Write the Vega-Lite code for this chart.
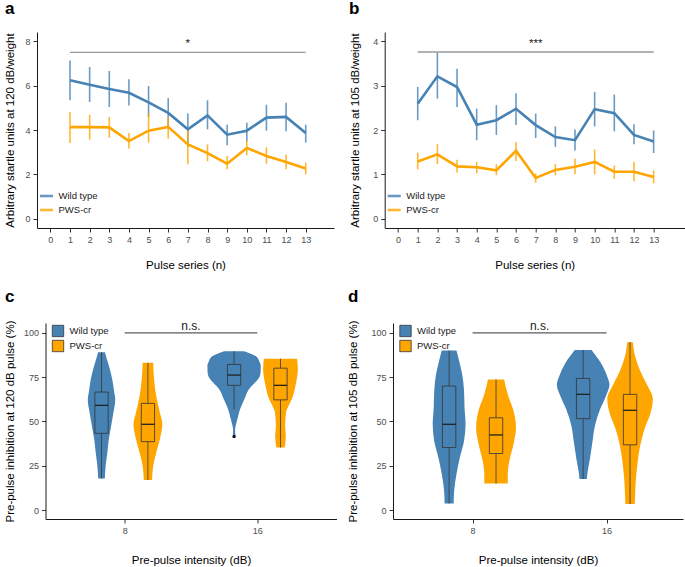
{
  "$schema": "https://vega.github.io/schema/vega-lite/v6.json",
  "padding": {"left": 4, "top": 0, "right": 0, "bottom": 0},
  "spacing": 16,
  "resolve": {"scale": {"color": "independent"}, "legend": {"color": "independent"}},
  "config": {
    "font": "Liberation Sans",
    "view": {"stroke": null},
    "axis": {"domainColor": "#1a1a1a", "domainWidth": 1, "tickColor": "#333333", "tickSize": 4, "tickWidth": 1, "labelColor": "#4d4d4d", "labelFontSize": 9, "labelPadding": 3, "labelOverlap": false, "labelSeparation": 0, "titleFontSize": 11.5, "titleFontWeight": "normal", "titleColor": "#000000", "grid": false},
    "axisX": {"labelOverlap": false},
    "axisQuantitative": {"labelOverlap": false},
    "title": {"anchor": "start", "frame": "bounds", "fontSize": 17, "fontWeight": "bold", "color": "#000000", "offset": 14}
  },
  "datasets": {
    "startle": [
      {"panel": "a", "group": "Wild type", "pulse": 1, "mean": 6.24, "lo": 5.34, "hi": 7.14},
      {"panel": "a", "group": "Wild type", "pulse": 2, "mean": 6.04, "lo": 5.26, "hi": 6.84},
      {"panel": "a", "group": "Wild type", "pulse": 3, "mean": 5.85, "lo": 5.04, "hi": 6.66},
      {"panel": "a", "group": "Wild type", "pulse": 4, "mean": 5.68, "lo": 5.11, "hi": 6.29},
      {"panel": "a", "group": "Wild type", "pulse": 5, "mean": 5.25, "lo": 4.59, "hi": 5.98},
      {"panel": "a", "group": "Wild type", "pulse": 6, "mean": 4.77, "lo": 4.09, "hi": 5.44},
      {"panel": "a", "group": "Wild type", "pulse": 7, "mean": 4.03, "lo": 3.23, "hi": 4.74},
      {"panel": "a", "group": "Wild type", "pulse": 8, "mean": 4.66, "lo": 4.03, "hi": 5.34},
      {"panel": "a", "group": "Wild type", "pulse": 9, "mean": 3.79, "lo": 3.31, "hi": 4.24},
      {"panel": "a", "group": "Wild type", "pulse": 10, "mean": 3.97, "lo": 3.49, "hi": 4.33},
      {"panel": "a", "group": "Wild type", "pulse": 11, "mean": 4.56, "lo": 3.97, "hi": 5.14},
      {"panel": "a", "group": "Wild type", "pulse": 12, "mean": 4.59, "lo": 3.94, "hi": 5.23},
      {"panel": "a", "group": "Wild type", "pulse": 13, "mean": 3.86, "lo": 3.43, "hi": 4.24},
      {"panel": "a", "group": "PWS-cr", "pulse": 1, "mean": 4.13, "lo": 3.41, "hi": 4.81},
      {"panel": "a", "group": "PWS-cr", "pulse": 2, "mean": 4.13, "lo": 3.56, "hi": 4.69},
      {"panel": "a", "group": "PWS-cr", "pulse": 3, "mean": 4.12, "lo": 3.65, "hi": 4.59},
      {"panel": "a", "group": "PWS-cr", "pulse": 4, "mean": 3.5, "lo": 3.16, "hi": 3.86},
      {"panel": "a", "group": "PWS-cr", "pulse": 5, "mean": 3.97, "lo": 3.43, "hi": 4.74},
      {"panel": "a", "group": "PWS-cr", "pulse": 6, "mean": 4.14, "lo": 3.61, "hi": 4.59},
      {"panel": "a", "group": "PWS-cr", "pulse": 7, "mean": 3.35, "lo": 2.45, "hi": 4.03},
      {"panel": "a", "group": "PWS-cr", "pulse": 8, "mean": 2.96, "lo": 2.59, "hi": 3.35},
      {"panel": "a", "group": "PWS-cr", "pulse": 9, "mean": 2.48, "lo": 2.23, "hi": 2.83},
      {"panel": "a", "group": "PWS-cr", "pulse": 10, "mean": 3.19, "lo": 2.86, "hi": 3.53},
      {"panel": "a", "group": "PWS-cr", "pulse": 11, "mean": 2.83, "lo": 2.48, "hi": 3.22},
      {"panel": "a", "group": "PWS-cr", "pulse": 12, "mean": 2.56, "lo": 2.23, "hi": 2.89},
      {"panel": "a", "group": "PWS-cr", "pulse": 13, "mean": 2.26, "lo": 2.0, "hi": 2.53},
      {"panel": "b", "group": "Wild type", "pulse": 1, "mean": 2.59, "lo": 2.22, "hi": 2.97},
      {"panel": "b", "group": "Wild type", "pulse": 2, "mean": 3.21, "lo": 2.71, "hi": 3.74},
      {"panel": "b", "group": "Wild type", "pulse": 3, "mean": 2.97, "lo": 2.52, "hi": 3.38},
      {"panel": "b", "group": "Wild type", "pulse": 4, "mean": 2.12, "lo": 1.77, "hi": 2.48},
      {"panel": "b", "group": "Wild type", "pulse": 5, "mean": 2.22, "lo": 1.89, "hi": 2.56},
      {"panel": "b", "group": "Wild type", "pulse": 6, "mean": 2.48, "lo": 2.11, "hi": 2.83},
      {"panel": "b", "group": "Wild type", "pulse": 7, "mean": 2.11, "lo": 1.82, "hi": 2.37},
      {"panel": "b", "group": "Wild type", "pulse": 8, "mean": 1.84, "lo": 1.62, "hi": 2.08},
      {"panel": "b", "group": "Wild type", "pulse": 9, "mean": 1.77, "lo": 1.54, "hi": 2.01},
      {"panel": "b", "group": "Wild type", "pulse": 10, "mean": 2.47, "lo": 2.08, "hi": 2.86},
      {"panel": "b", "group": "Wild type", "pulse": 11, "mean": 2.38, "lo": 1.97, "hi": 2.8},
      {"panel": "b", "group": "Wild type", "pulse": 12, "mean": 1.89, "lo": 1.68, "hi": 2.13},
      {"panel": "b", "group": "Wild type", "pulse": 13, "mean": 1.74, "lo": 1.48, "hi": 1.99},
      {"panel": "b", "group": "PWS-cr", "pulse": 1, "mean": 1.29, "lo": 1.11, "hi": 1.49},
      {"panel": "b", "group": "PWS-cr", "pulse": 2, "mean": 1.45, "lo": 1.23, "hi": 1.68},
      {"panel": "b", "group": "PWS-cr", "pulse": 3, "mean": 1.18, "lo": 1.04, "hi": 1.33},
      {"panel": "b", "group": "PWS-cr", "pulse": 4, "mean": 1.16, "lo": 1.02, "hi": 1.28},
      {"panel": "b", "group": "PWS-cr", "pulse": 5, "mean": 1.09, "lo": 0.98, "hi": 1.23},
      {"panel": "b", "group": "PWS-cr", "pulse": 6, "mean": 1.53, "lo": 1.3, "hi": 1.73},
      {"panel": "b", "group": "PWS-cr", "pulse": 7, "mean": 0.92, "lo": 0.81, "hi": 1.02},
      {"panel": "b", "group": "PWS-cr", "pulse": 8, "mean": 1.1, "lo": 0.98, "hi": 1.23},
      {"panel": "b", "group": "PWS-cr", "pulse": 9, "mean": 1.17, "lo": 1.0, "hi": 1.35},
      {"panel": "b", "group": "PWS-cr", "pulse": 10, "mean": 1.28, "lo": 1.0, "hi": 1.56},
      {"panel": "b", "group": "PWS-cr", "pulse": 11, "mean": 1.06, "lo": 0.9, "hi": 1.2},
      {"panel": "b", "group": "PWS-cr", "pulse": 12, "mean": 1.06, "lo": 0.84, "hi": 1.28},
      {"panel": "b", "group": "PWS-cr", "pulse": 13, "mean": 0.94, "lo": 0.8, "hi": 1.09}
    ],
    "violin": [
      {"panel": "c", "intensity": 8, "group": "Wild type", "v": 89.1, "hw": 0.21},
      {"panel": "c", "intensity": 8, "group": "Wild type", "v": 85, "hw": 0.33},
      {"panel": "c", "intensity": 8, "group": "Wild type", "v": 81.3, "hw": 0.45},
      {"panel": "c", "intensity": 8, "group": "Wild type", "v": 73.7, "hw": 0.65},
      {"panel": "c", "intensity": 8, "group": "Wild type", "v": 66.2, "hw": 0.77},
      {"panel": "c", "intensity": 8, "group": "Wild type", "v": 62.4, "hw": 0.83},
      {"panel": "c", "intensity": 8, "group": "Wild type", "v": 55, "hw": 0.72},
      {"panel": "c", "intensity": 8, "group": "Wild type", "v": 47.5, "hw": 0.58},
      {"panel": "c", "intensity": 8, "group": "Wild type", "v": 40, "hw": 0.44},
      {"panel": "c", "intensity": 8, "group": "Wild type", "v": 32.4, "hw": 0.35},
      {"panel": "c", "intensity": 8, "group": "Wild type", "v": 25, "hw": 0.25},
      {"panel": "c", "intensity": 8, "group": "Wild type", "v": 17.8, "hw": 0.2},
      {"panel": "c", "intensity": 8, "group": "PWS-cr", "v": 83.1, "hw": 0.32},
      {"panel": "c", "intensity": 8, "group": "PWS-cr", "v": 73.7, "hw": 0.37},
      {"panel": "c", "intensity": 8, "group": "PWS-cr", "v": 64.4, "hw": 0.5},
      {"panel": "c", "intensity": 8, "group": "PWS-cr", "v": 55, "hw": 0.72},
      {"panel": "c", "intensity": 8, "group": "PWS-cr", "v": 48.4, "hw": 0.87},
      {"panel": "c", "intensity": 8, "group": "PWS-cr", "v": 40, "hw": 0.72},
      {"panel": "c", "intensity": 8, "group": "PWS-cr", "v": 32.4, "hw": 0.5},
      {"panel": "c", "intensity": 8, "group": "PWS-cr", "v": 25, "hw": 0.32},
      {"panel": "c", "intensity": 8, "group": "PWS-cr", "v": 17, "hw": 0.25},
      {"panel": "c", "intensity": 16, "group": "Wild type", "v": 89.7, "hw": 0.6},
      {"panel": "c", "intensity": 16, "group": "Wild type", "v": 88.3, "hw": 1.0},
      {"panel": "c", "intensity": 16, "group": "Wild type", "v": 86.9, "hw": 1.3},
      {"panel": "c", "intensity": 16, "group": "Wild type", "v": 84, "hw": 1.52},
      {"panel": "c", "intensity": 16, "group": "Wild type", "v": 81.3, "hw": 1.61},
      {"panel": "c", "intensity": 16, "group": "Wild type", "v": 78, "hw": 1.6},
      {"panel": "c", "intensity": 16, "group": "Wild type", "v": 75.6, "hw": 1.55},
      {"panel": "c", "intensity": 16, "group": "Wild type", "v": 73.5, "hw": 1.42},
      {"panel": "c", "intensity": 16, "group": "Wild type", "v": 71.8, "hw": 1.25},
      {"panel": "c", "intensity": 16, "group": "Wild type", "v": 68.1, "hw": 0.89},
      {"panel": "c", "intensity": 16, "group": "Wild type", "v": 62.5, "hw": 0.62},
      {"panel": "c", "intensity": 16, "group": "Wild type", "v": 56.9, "hw": 0.36},
      {"panel": "c", "intensity": 16, "group": "Wild type", "v": 52.1, "hw": 0.22},
      {"panel": "c", "intensity": 16, "group": "Wild type", "v": 48.4, "hw": 0.12},
      {"panel": "c", "intensity": 16, "group": "Wild type", "v": 45.6, "hw": 0.06},
      {"panel": "c", "intensity": 16, "group": "Wild type", "v": 42.8, "hw": 0.07},
      {"panel": "c", "intensity": 16, "group": "Wild type", "v": 41.5, "hw": 0.06},
      {"panel": "c", "intensity": 16, "group": "PWS-cr", "v": 85.4, "hw": 1.0},
      {"panel": "c", "intensity": 16, "group": "PWS-cr", "v": 79.4, "hw": 1.05},
      {"panel": "c", "intensity": 16, "group": "PWS-cr", "v": 75, "hw": 1.0},
      {"panel": "c", "intensity": 16, "group": "PWS-cr", "v": 70, "hw": 0.9},
      {"panel": "c", "intensity": 16, "group": "PWS-cr", "v": 62.5, "hw": 0.68},
      {"panel": "c", "intensity": 16, "group": "PWS-cr", "v": 58.7, "hw": 0.48},
      {"panel": "c", "intensity": 16, "group": "PWS-cr", "v": 55, "hw": 0.33},
      {"panel": "c", "intensity": 16, "group": "PWS-cr", "v": 47.5, "hw": 0.28},
      {"panel": "c", "intensity": 16, "group": "PWS-cr", "v": 41.8, "hw": 0.32},
      {"panel": "c", "intensity": 16, "group": "PWS-cr", "v": 35.3, "hw": 0.26},
      {"panel": "d", "intensity": 8, "group": "Wild type", "v": 90.1, "hw": 0.44},
      {"panel": "d", "intensity": 8, "group": "Wild type", "v": 84.1, "hw": 0.6},
      {"panel": "d", "intensity": 8, "group": "Wild type", "v": 76.6, "hw": 0.78},
      {"panel": "d", "intensity": 8, "group": "Wild type", "v": 67.2, "hw": 0.89},
      {"panel": "d", "intensity": 8, "group": "Wild type", "v": 57.8, "hw": 0.92},
      {"panel": "d", "intensity": 8, "group": "Wild type", "v": 48.4, "hw": 0.98},
      {"panel": "d", "intensity": 8, "group": "Wild type", "v": 39, "hw": 0.89},
      {"panel": "d", "intensity": 8, "group": "Wild type", "v": 29.6, "hw": 0.64},
      {"panel": "d", "intensity": 8, "group": "Wild type", "v": 20.3, "hw": 0.44},
      {"panel": "d", "intensity": 8, "group": "Wild type", "v": 10.9, "hw": 0.3},
      {"panel": "d", "intensity": 8, "group": "Wild type", "v": 3.7, "hw": 0.27},
      {"panel": "d", "intensity": 8, "group": "PWS-cr", "v": 73.7, "hw": 0.48},
      {"panel": "d", "intensity": 8, "group": "PWS-cr", "v": 65.3, "hw": 0.7},
      {"panel": "d", "intensity": 8, "group": "PWS-cr", "v": 55.9, "hw": 1.05},
      {"panel": "d", "intensity": 8, "group": "PWS-cr", "v": 46.5, "hw": 1.19},
      {"panel": "d", "intensity": 8, "group": "PWS-cr", "v": 37.2, "hw": 1.04},
      {"panel": "d", "intensity": 8, "group": "PWS-cr", "v": 27.8, "hw": 0.8},
      {"panel": "d", "intensity": 8, "group": "PWS-cr", "v": 20.3, "hw": 0.7},
      {"panel": "d", "intensity": 8, "group": "PWS-cr", "v": 15, "hw": 0.7},
      {"panel": "d", "intensity": 16, "group": "Wild type", "v": 90.3, "hw": 0.5},
      {"panel": "d", "intensity": 16, "group": "Wild type", "v": 83.1, "hw": 1.05},
      {"panel": "d", "intensity": 16, "group": "Wild type", "v": 75.6, "hw": 1.43},
      {"panel": "d", "intensity": 16, "group": "Wild type", "v": 70.9, "hw": 1.57},
      {"panel": "d", "intensity": 16, "group": "Wild type", "v": 64.4, "hw": 1.36},
      {"panel": "d", "intensity": 16, "group": "Wild type", "v": 56.9, "hw": 1.01},
      {"panel": "d", "intensity": 16, "group": "Wild type", "v": 47.5, "hw": 0.7},
      {"panel": "d", "intensity": 16, "group": "Wild type", "v": 38.1, "hw": 0.55},
      {"panel": "d", "intensity": 16, "group": "Wild type", "v": 28.7, "hw": 0.4},
      {"panel": "d", "intensity": 16, "group": "Wild type", "v": 21.2, "hw": 0.26},
      {"panel": "d", "intensity": 16, "group": "Wild type", "v": 17.5, "hw": 0.22},
      {"panel": "d", "intensity": 16, "group": "PWS-cr", "v": 94.8, "hw": 0.17},
      {"panel": "d", "intensity": 16, "group": "PWS-cr", "v": 86.9, "hw": 0.3},
      {"panel": "d", "intensity": 16, "group": "PWS-cr", "v": 79.4, "hw": 0.57},
      {"panel": "d", "intensity": 16, "group": "PWS-cr", "v": 71.8, "hw": 0.95},
      {"panel": "d", "intensity": 16, "group": "PWS-cr", "v": 62.5, "hw": 1.36},
      {"panel": "d", "intensity": 16, "group": "PWS-cr", "v": 55, "hw": 1.23},
      {"panel": "d", "intensity": 16, "group": "PWS-cr", "v": 45.6, "hw": 0.86},
      {"panel": "d", "intensity": 16, "group": "PWS-cr", "v": 36.2, "hw": 0.6},
      {"panel": "d", "intensity": 16, "group": "PWS-cr", "v": 26.8, "hw": 0.45},
      {"panel": "d", "intensity": 16, "group": "PWS-cr", "v": 17.5, "hw": 0.35},
      {"panel": "d", "intensity": 16, "group": "PWS-cr", "v": 8.1, "hw": 0.3},
      {"panel": "d", "intensity": 16, "group": "PWS-cr", "v": 3.4, "hw": 0.28}
    ],
    "box": [
      {"panel": "c", "intensity": 8, "group": "Wild type", "lo": 17.8, "q1": 43.3, "med": 59.1, "q3": 66.6, "hi": 89.1},
      {"panel": "c", "intensity": 8, "group": "PWS-cr", "lo": 17, "q1": 38.6, "med": 48.4, "q3": 60.2, "hi": 83.1},
      {"panel": "c", "intensity": 16, "group": "Wild type", "lo": 56.9, "q1": 70.4, "med": 76.2, "q3": 82.2, "hi": 89.7},
      {"panel": "c", "intensity": 16, "group": "PWS-cr", "lo": 35.3, "q1": 62.2, "med": 70.4, "q3": 80.1, "hi": 85.4},
      {"panel": "d", "intensity": 8, "group": "Wild type", "lo": 3.7, "q1": 35.3, "med": 48.4, "q3": 70, "hi": 90.1},
      {"panel": "d", "intensity": 8, "group": "PWS-cr", "lo": 15, "q1": 31.9, "med": 42.4, "q3": 52.1, "hi": 73.7},
      {"panel": "d", "intensity": 16, "group": "Wild type", "lo": 17.5, "q1": 51.6, "med": 65.3, "q3": 74.3, "hi": 90.3},
      {"panel": "d", "intensity": 16, "group": "PWS-cr", "lo": 3.4, "q1": 36.8, "med": 56.3, "q3": 65.3, "hi": 94.8}
    ],
    "outliers": [
      {"panel": "c", "intensity": 16, "group": "Wild type", "v": 41.5}
    ],
    "sig": [
      {"panel": "a", "x1": 1, "x2": 13, "y": 7.5, "tx": 7, "ty": 7.88, "label": "*"},
      {"panel": "b", "x1": 1, "x2": 13, "y": 3.76, "tx": 7, "ty": 3.95, "label": "***"},
      {"panel": "c", "x1": 8, "x2": 16, "y": 100, "tx": 12, "ty": 104, "label": "n.s."},
      {"panel": "d", "x1": 8, "x2": 16, "y": 100, "tx": 12, "ty": 104, "label": "n.s."}
    ]
  },
  "vconcat": [
    {
      "hconcat": [
        {
          "width": 297, "height": 196,
          "title": {"text": "a"},
          "layer": [
            {
              "data": {"name": "sig"}, "transform": [{"filter": "datum.panel == 'a'"}],
              "mark": {"type": "rule", "color": "#999999", "strokeWidth": 1.4},
              "encoding": {
                "x": {"field": "x1", "type": "quantitative", "title": "Pulse series (n)", "scale": {"domain": [-0.68, 14.44], "nice": false, "zero": false}, "axis": {"values": [0,1,2,3,4,5,6,7,8,9,10,11,12,13], "labelOverlap": false, "titlePadding": 15}},
                "x2": {"field": "x2"},
                "y": {"field": "y", "type": "quantitative", "title": "Arbitrary startle units at 120 dB/weight", "scale": {"domain": [-0.42, 8.42], "nice": false, "zero": false}, "axis": {"values": [0,2,4,6,8], "titlePadding": 9}}
              }
            },
            {
              "data": {"name": "sig"}, "transform": [{"filter": "datum.panel == 'a'"}],
              "mark": {"type": "text", "fontSize": 11.5, "color": "#222222", "baseline": "middle"},
              "encoding": {
                "x": {"field": "tx", "type": "quantitative", "title": "Pulse series (n)", "axis": {"values": [0,1,2,3,4,5,6,7,8,9,10,11,12,13], "labelOverlap": false, "titlePadding": 15}},
                "y": {"field": "ty", "type": "quantitative", "title": "Arbitrary startle units at 120 dB/weight"},
                "text": {"field": "label"}
              }
            },
            {
              "data": {"name": "startle"}, "transform": [{"filter": "datum.panel == 'a'"}],
              "mark": {"type": "rule", "strokeWidth": 1.6, "opacity": 0.8},
              "encoding": {
                "x": {"field": "pulse", "type": "quantitative", "title": "Pulse series (n)", "axis": {"values": [0,1,2,3,4,5,6,7,8,9,10,11,12,13], "labelOverlap": false, "titlePadding": 15}},
                "y": {"field": "lo", "type": "quantitative", "title": "Arbitrary startle units at 120 dB/weight"},
                "y2": {"field": "hi"},
                "color": {"field": "group", "type": "nominal", "scale": {"domain": ["Wild type", "PWS-cr"], "range": ["#4682B4", "#FFA500"]}, "legend": {"orient": "none", "legendX": 1.5, "legendY": 156, "title": null, "symbolType": "stroke", "symbolStrokeWidth": 2.6, "symbolSize": 170, "labelFontSize": 9.5, "labelColor": "#1a1a1a", "rowPadding": 0, "labelOffset": 4, "padding": 0}}
              }
            },
            {
              "data": {"name": "startle"}, "transform": [{"filter": "datum.panel == 'a'"}],
              "mark": {"type": "line", "strokeWidth": 2.6},
              "encoding": {
                "x": {"field": "pulse", "type": "quantitative", "title": "Pulse series (n)", "axis": {"values": [0,1,2,3,4,5,6,7,8,9,10,11,12,13], "labelOverlap": false, "titlePadding": 15}},
                "y": {"field": "mean", "type": "quantitative", "title": "Arbitrary startle units at 120 dB/weight"},
                "color": {"field": "group", "type": "nominal", "scale": {"domain": ["Wild type", "PWS-cr"], "range": ["#4682B4", "#FFA500"]}, "legend": {"orient": "none", "legendX": 1.5, "legendY": 156, "title": null, "symbolType": "stroke", "symbolStrokeWidth": 2.6, "symbolSize": 170, "labelFontSize": 9.5, "labelColor": "#1a1a1a", "rowPadding": 0, "labelOffset": 4, "padding": 0}}
              }
            }
          ]
        },
        {
          "width": 300, "height": 196,
          "title": {"text": "b"},
          "layer": [
            {
              "data": {"name": "sig"}, "transform": [{"filter": "datum.panel == 'b'"}],
              "mark": {"type": "rule", "color": "#999999", "strokeWidth": 1.4},
              "encoding": {
                "x": {"field": "x1", "type": "quantitative", "title": "Pulse series (n)", "scale": {"domain": [-0.68, 14.58], "nice": false, "zero": false}, "axis": {"values": [0,1,2,3,4,5,6,7,8,9,10,11,12,13], "labelOverlap": false, "titlePadding": 15}},
                "x2": {"field": "x2"},
                "y": {"field": "y", "type": "quantitative", "title": "Arbitrary startle units at 105 dB/weight", "scale": {"domain": [-0.21, 4.21], "nice": false, "zero": false}, "axis": {"values": [0,1,2,3,4], "titlePadding": 12.6}}
              }
            },
            {
              "data": {"name": "sig"}, "transform": [{"filter": "datum.panel == 'b'"}],
              "mark": {"type": "text", "fontSize": 11.5, "color": "#222222", "baseline": "middle"},
              "encoding": {
                "x": {"field": "tx", "type": "quantitative", "title": "Pulse series (n)", "axis": {"values": [0,1,2,3,4,5,6,7,8,9,10,11,12,13], "labelOverlap": false, "titlePadding": 15}},
                "y": {"field": "ty", "type": "quantitative", "title": "Arbitrary startle units at 105 dB/weight"},
                "text": {"field": "label"}
              }
            },
            {
              "data": {"name": "startle"}, "transform": [{"filter": "datum.panel == 'b'"}],
              "mark": {"type": "rule", "strokeWidth": 1.6, "opacity": 0.8},
              "encoding": {
                "x": {"field": "pulse", "type": "quantitative", "title": "Pulse series (n)", "axis": {"values": [0,1,2,3,4,5,6,7,8,9,10,11,12,13], "labelOverlap": false, "titlePadding": 15}},
                "y": {"field": "lo", "type": "quantitative", "title": "Arbitrary startle units at 105 dB/weight"},
                "y2": {"field": "hi"},
                "color": {"field": "group", "type": "nominal", "scale": {"domain": ["Wild type", "PWS-cr"], "range": ["#4682B4", "#FFA500"]}, "legend": {"orient": "none", "legendX": 1.5, "legendY": 156, "title": null, "symbolType": "stroke", "symbolStrokeWidth": 2.6, "symbolSize": 170, "labelFontSize": 9.5, "labelColor": "#1a1a1a", "rowPadding": 0, "labelOffset": 4, "padding": 0}}
              }
            },
            {
              "data": {"name": "startle"}, "transform": [{"filter": "datum.panel == 'b'"}],
              "mark": {"type": "line", "strokeWidth": 2.6},
              "encoding": {
                "x": {"field": "pulse", "type": "quantitative", "title": "Pulse series (n)", "axis": {"values": [0,1,2,3,4,5,6,7,8,9,10,11,12,13], "labelOverlap": false, "titlePadding": 15}},
                "y": {"field": "mean", "type": "quantitative", "title": "Arbitrary startle units at 105 dB/weight"},
                "color": {"field": "group", "type": "nominal", "scale": {"domain": ["Wild type", "PWS-cr"], "range": ["#4682B4", "#FFA500"]}, "legend": {"orient": "none", "legendX": 1.5, "legendY": 156, "title": null, "symbolType": "stroke", "symbolStrokeWidth": 2.6, "symbolSize": 170, "labelFontSize": 9.5, "labelColor": "#1a1a1a", "rowPadding": 0, "labelOffset": 4, "padding": 0}}
              }
            }
          ]
        }
      ],
      "spacing": 14.7,
      "resolve": {"scale": {"color": "independent"}, "legend": {"color": "independent"}}
    },
    {
      "hconcat": [
        {
          "hconcat": [
            {
              "width": 1, "height": 1,
              "data": {"values": []},
              "mark": {"type": "point", "opacity": 0},
              "encoding": {}
            },
            {
              "width": 291, "height": 196,
              "title": {"text": "c"},
              "layer": [
                {
                  "data": {"name": "violin"},
                  "transform": [{"filter": "datum.panel == 'c'"}, {"calculate": "datum.intensity + (datum.group == 'Wild type' ? -1.4 : 1.4)", "as": "xc"}, {"calculate": "datum.xc - datum.hw", "as": "xl"}, {"calculate": "datum.xc + datum.hw", "as": "xr"}],
                  "mark": {"type": "area", "orient": "horizontal", "interpolate": "monotone", "opacity": 1},
                  "encoding": {
                    "y": {"field": "v", "type": "quantitative", "title": "Pre-pulse inhibition at 120 dB pulse (%)", "scale": {"domain": [-5.07, 105.6], "nice": false, "zero": false}, "axis": {"values": [0,25,50,75,100], "titlePadding": 7.6}},
                    "x": {"field": "xl", "type": "quantitative", "stack": null, "title": "Pre-pulse intensity (dB)", "scale": {"domain": [3.22, 20.78], "nice": false, "zero": false}, "axis": {"values": [8,16], "titlePadding": 19}},
                    "x2": {"field": "xr"},
                    "detail": {"field": "intensity", "type": "nominal"},
                    "color": {"field": "group", "type": "nominal", "scale": {"domain": ["Wild type", "PWS-cr"], "range": ["#4682B4", "#FFA500"]}, "legend": {"orient": "none", "legendX": 6, "legendY": 1.5, "title": null, "symbolType": "square", "symbolSize": 130, "symbolStrokeColor": "#333333", "symbolStrokeWidth": 0.8, "symbolOpacity": 1, "labelFontSize": 9.5, "labelColor": "#1a1a1a", "rowPadding": 0, "labelOffset": 5, "padding": 0}}
                  }
                },
                {
                  "data": {"name": "box"},
                  "transform": [{"filter": "datum.panel == 'c'"}, {"calculate": "datum.intensity + (datum.group == 'Wild type' ? -1.4 : 1.4)", "as": "xc"}],
                  "mark": {"type": "rule", "color": "#3a3a3a", "strokeWidth": 0.8},
                  "encoding": {
                    "x": {"field": "xc", "type": "quantitative", "title": "Pre-pulse intensity (dB)"},
                    "y": {"field": "lo", "type": "quantitative", "title": "Pre-pulse inhibition at 120 dB pulse (%)"},
                    "y2": {"field": "hi"}
                  }
                },
                {
                  "data": {"name": "box"},
                  "transform": [{"filter": "datum.panel == 'c'"}, {"calculate": "datum.intensity + (datum.group == 'Wild type' ? -1.4 : 1.4)", "as": "xc"}, {"calculate": "datum.xc - 0.4", "as": "bl"}, {"calculate": "datum.xc + 0.4", "as": "br"}],
                  "mark": {"type": "rect", "stroke": "#333333", "strokeWidth": 0.8, "opacity": 1},
                  "encoding": {
                    "x": {"field": "bl", "type": "quantitative", "title": "Pre-pulse intensity (dB)"},
                    "x2": {"field": "br"},
                    "y": {"field": "q1", "type": "quantitative", "title": "Pre-pulse inhibition at 120 dB pulse (%)"},
                    "y2": {"field": "q3"},
                    "color": {"field": "group", "type": "nominal", "scale": {"domain": ["Wild type", "PWS-cr"], "range": ["#4682B4", "#FFA500"]}, "legend": {"orient": "none", "legendX": 6, "legendY": 1.5, "title": null, "symbolType": "square", "symbolSize": 130, "symbolStrokeColor": "#333333", "symbolStrokeWidth": 0.8, "symbolOpacity": 1, "labelFontSize": 9.5, "labelColor": "#1a1a1a", "rowPadding": 0, "labelOffset": 5, "padding": 0}}
                  }
                },
                {
                  "data": {"name": "box"},
                  "transform": [{"filter": "datum.panel == 'c'"}, {"calculate": "datum.intensity + (datum.group == 'Wild type' ? -1.4 : 1.4)", "as": "xc"}, {"calculate": "datum.xc - 0.4", "as": "bl"}, {"calculate": "datum.xc + 0.4", "as": "br"}],
                  "mark": {"type": "rule", "color": "#222222", "strokeWidth": 1.3},
                  "encoding": {
                    "x": {"field": "bl", "type": "quantitative", "title": "Pre-pulse intensity (dB)"},
                    "x2": {"field": "br"},
                    "y": {"field": "med", "type": "quantitative", "title": "Pre-pulse inhibition at 120 dB pulse (%)"}
                  }
                },
                {
                  "data": {"name": "outliers"},
                  "transform": [{"filter": "datum.panel == 'c'"}, {"calculate": "datum.intensity + (datum.group == 'Wild type' ? -1.4 : 1.4)", "as": "xc"}],
                  "mark": {"type": "point", "filled": true, "color": "#111111", "size": 12, "opacity": 1},
                  "encoding": {
                    "x": {"field": "xc", "type": "quantitative", "title": "Pre-pulse intensity (dB)"},
                    "y": {"field": "v", "type": "quantitative", "title": "Pre-pulse inhibition at 120 dB pulse (%)"}
                  }
                },
                {
                  "data": {"name": "sig"}, "transform": [{"filter": "datum.panel == 'c'"}],
                  "mark": {"type": "rule", "color": "#333333", "strokeWidth": 1},
                  "encoding": {
                    "x": {"field": "x1", "type": "quantitative", "title": "Pre-pulse intensity (dB)"},
                    "x2": {"field": "x2"},
                    "y": {"field": "y", "type": "quantitative", "title": "Pre-pulse inhibition at 120 dB pulse (%)"}
                  }
                },
                {
                  "data": {"name": "sig"}, "transform": [{"filter": "datum.panel == 'c'"}],
                  "mark": {"type": "text", "fontSize": 12, "color": "#1a1a1a", "baseline": "middle"},
                  "encoding": {
                    "x": {"field": "tx", "type": "quantitative", "title": "Pre-pulse intensity (dB)"},
                    "y": {"field": "ty", "type": "quantitative", "title": "Pre-pulse inhibition at 120 dB pulse (%)"},
                    "text": {"field": "label"}
                  }
                }
              ]
            }
          ],
          "spacing": -33.5,
          "resolve": {"scale": {"color": "independent"}, "legend": {"color": "independent"}}
        },
        {
          "width": 290, "height": 196,
          "title": {"text": "d"},
          "layer": [
            {
              "data": {"name": "violin"},
              "transform": [{"filter": "datum.panel == 'd'"}, {"calculate": "datum.intensity + (datum.group == 'Wild type' ? -1.4 : 1.4)", "as": "xc"}, {"calculate": "datum.xc - datum.hw", "as": "xl"}, {"calculate": "datum.xc + datum.hw", "as": "xr"}],
              "mark": {"type": "area", "orient": "horizontal", "interpolate": "monotone", "opacity": 1},
              "encoding": {
                "y": {"field": "v", "type": "quantitative", "title": "Pre-pulse inhibition at 105 dB pulse (%)", "scale": {"domain": [-5.07, 105.6], "nice": false, "zero": false}, "axis": {"values": [0,25,50,75,100], "titlePadding": 12}},
                "x": {"field": "xl", "type": "quantitative", "stack": null, "title": "Pre-pulse intensity (dB)", "scale": {"domain": [3.25, 20.56], "nice": false, "zero": false}, "axis": {"values": [8,16], "titlePadding": 19}},
                "x2": {"field": "xr"},
                "detail": {"field": "intensity", "type": "nominal"},
                "color": {"field": "group", "type": "nominal", "scale": {"domain": ["Wild type", "PWS-cr"], "range": ["#4682B4", "#FFA500"]}, "legend": {"orient": "none", "legendX": 6, "legendY": 1.5, "title": null, "symbolType": "square", "symbolSize": 130, "symbolStrokeColor": "#333333", "symbolStrokeWidth": 0.8, "symbolOpacity": 1, "labelFontSize": 9.5, "labelColor": "#1a1a1a", "rowPadding": 0, "labelOffset": 5, "padding": 0}}
              }
            },
            {
              "data": {"name": "box"},
              "transform": [{"filter": "datum.panel == 'd'"}, {"calculate": "datum.intensity + (datum.group == 'Wild type' ? -1.4 : 1.4)", "as": "xc"}],
              "mark": {"type": "rule", "color": "#3a3a3a", "strokeWidth": 0.8},
              "encoding": {
                "x": {"field": "xc", "type": "quantitative", "title": "Pre-pulse intensity (dB)"},
                "y": {"field": "lo", "type": "quantitative", "title": "Pre-pulse inhibition at 105 dB pulse (%)"},
                "y2": {"field": "hi"}
              }
            },
            {
              "data": {"name": "box"},
              "transform": [{"filter": "datum.panel == 'd'"}, {"calculate": "datum.intensity + (datum.group == 'Wild type' ? -1.4 : 1.4)", "as": "xc"}, {"calculate": "datum.xc - 0.4", "as": "bl"}, {"calculate": "datum.xc + 0.4", "as": "br"}],
              "mark": {"type": "rect", "stroke": "#333333", "strokeWidth": 0.8, "opacity": 1},
              "encoding": {
                "x": {"field": "bl", "type": "quantitative", "title": "Pre-pulse intensity (dB)"},
                "x2": {"field": "br"},
                "y": {"field": "q1", "type": "quantitative", "title": "Pre-pulse inhibition at 105 dB pulse (%)"},
                "y2": {"field": "q3"},
                "color": {"field": "group", "type": "nominal", "scale": {"domain": ["Wild type", "PWS-cr"], "range": ["#4682B4", "#FFA500"]}, "legend": {"orient": "none", "legendX": 6, "legendY": 1.5, "title": null, "symbolType": "square", "symbolSize": 130, "symbolStrokeColor": "#333333", "symbolStrokeWidth": 0.8, "symbolOpacity": 1, "labelFontSize": 9.5, "labelColor": "#1a1a1a", "rowPadding": 0, "labelOffset": 5, "padding": 0}}
              }
            },
            {
              "data": {"name": "box"},
              "transform": [{"filter": "datum.panel == 'd'"}, {"calculate": "datum.intensity + (datum.group == 'Wild type' ? -1.4 : 1.4)", "as": "xc"}, {"calculate": "datum.xc - 0.4", "as": "bl"}, {"calculate": "datum.xc + 0.4", "as": "br"}],
              "mark": {"type": "rule", "color": "#222222", "strokeWidth": 1.3},
              "encoding": {
                "x": {"field": "bl", "type": "quantitative", "title": "Pre-pulse intensity (dB)"},
                "x2": {"field": "br"},
                "y": {"field": "med", "type": "quantitative", "title": "Pre-pulse inhibition at 105 dB pulse (%)"}
              }
            },
            {
              "data": {"name": "sig"}, "transform": [{"filter": "datum.panel == 'd'"}],
              "mark": {"type": "rule", "color": "#333333", "strokeWidth": 1},
              "encoding": {
                "x": {"field": "x1", "type": "quantitative", "title": "Pre-pulse intensity (dB)"},
                "x2": {"field": "x2"},
                "y": {"field": "y", "type": "quantitative", "title": "Pre-pulse inhibition at 105 dB pulse (%)"}
              }
            },
            {
              "data": {"name": "sig"}, "transform": [{"filter": "datum.panel == 'd'"}],
              "mark": {"type": "text", "fontSize": 12, "color": "#1a1a1a", "baseline": "middle"},
              "encoding": {
                "x": {"field": "tx", "type": "quantitative", "title": "Pre-pulse intensity (dB)"},
                "y": {"field": "ty", "type": "quantitative", "title": "Pre-pulse inhibition at 105 dB pulse (%)"},
                "text": {"field": "label"}
              }
            }
          ]
        }
      ],
      "spacing": 10,
      "resolve": {"scale": {"color": "independent"}, "legend": {"color": "independent"}}
    }
  ]
}
